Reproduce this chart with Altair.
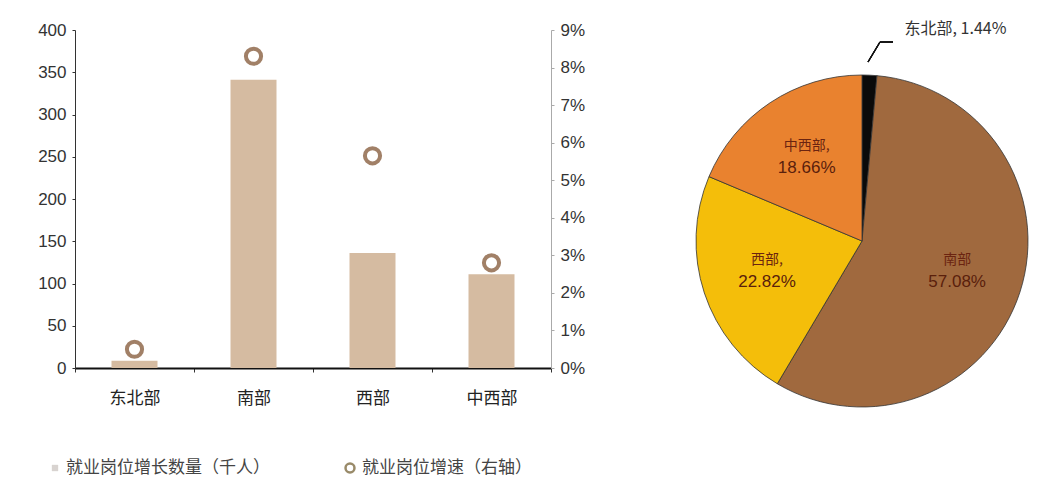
import altair as alt
import pandas as pd

# ---- data ----
regions = ["东北部", "南部", "西部", "中西部"]
job_growth = [8.6, 341, 136, 111]            # 千人
growth_rate = [0.005, 0.083, 0.0565, 0.028]  # 右轴
pie_share = [1.44, 57.08, 22.82, 18.66]      # %
pie_colors = ["#0a0a0a", "#A0693E", "#F4BE0A", "#E9822F"]
pie_names_in = ["", "南部", "西部,", "中西部,"]
bar_label = "就业岗位增长数量（千人）"
pt_label = "就业岗位增速（右轴）"

df = pd.DataFrame({
    "region": regions,
    "growth": job_growth,
    "rate": growth_rate,
    "share": pie_share,
    "idx": list(range(len(regions))),
    "name_in": pie_names_in,
})
df["pct_in"] = ["" if r == "东北部" else f"{s:.2f}%" for r, s in zip(regions, pie_share)]
df["out_label"] = [f"{r}, {s:.2f}%" if r == "东北部" else "" for r, s in zip(regions, pie_share)]

W, H = 476, 338
PL, PT = 75, 30
CX, CY = 787, 211
R = 166

base = alt.Chart(df)

xenc = alt.X("region:N", sort=regions, title=None,
             scale=alt.Scale(paddingInner=0, paddingOuter=0),
             axis=alt.Axis(labelAngle=0, labelFont="Noto Sans CJK SC", labelFontSize=17,
                           labelColor="#222", labelPadding=18, domainColor="#111",
                           domainWidth=2, tickBand="extent", tickColor="#333",
                           tickSize=4))

bars = base.mark_bar(size=46, color="#D5BBA1").encode(
    x=xenc,
    y=alt.Y("growth:Q", title=None,
            scale=alt.Scale(domain=[0, 400]),
            axis=alt.Axis(values=list(range(0, 401, 50)), grid=False,
                          labelFont="Liberation Sans", labelFontSize=17,
                          labelColor="#333", domainColor="#333", tickColor="#333",
                          tickSize=3, labelPadding=6)),
)

points = base.mark_point(shape="circle", filled=False, size=230,
                         strokeWidth=4, color="#7A4B28").encode(
    x=alt.X("region:N", sort=regions),
    y=alt.Y("rate:Q", title=None,
            scale=alt.Scale(domain=[0, 0.09]),
            axis=alt.Axis(orient="right", format=".0%",
                          values=[i / 100 for i in range(10)], grid=False,
                          labelFont="Liberation Sans", labelFontSize=17,
                          labelColor="#333", domainColor="#aaa", tickColor="#aaa",
                          tickSize=3, labelPadding=6)),
)

left = alt.layer(bars, points).resolve_scale(y="independent")

theta = alt.Theta("share:Q", stack=True)
order = alt.Order("idx:Q")

pie = base.mark_arc(radius=R, stroke="#333", strokeWidth=0.8).encode(
    theta=theta,
    order=order,
    color=alt.Color("region:N", scale=alt.Scale(domain=regions, range=pie_colors),
                    legend=None),
    x=alt.value(CX), y=alt.value(CY),
)

pie_names = base.mark_text(radius=100, dy=-12, font="Noto Sans CJK SC",
                           fontSize=14, color="#6B2410").encode(
    theta=theta, order=order, text="name_in:N",
    x=alt.value(CX), y=alt.value(CY),
)
pie_pcts = base.mark_text(radius=100, dy=10, font="Liberation Sans",
                          fontSize=17, color="#5A200C").encode(
    theta=theta, order=order, text="pct_in:N",
    x=alt.value(CX), y=alt.value(CY),
)
pie_out = base.mark_text(radius=212, dx=33, align="left", font="Noto Sans CJK SC",
                         fontSize=16, color="#333").encode(
    theta=theta, order=order, text="out_label:N",
    x=alt.value(CX), y=alt.value(CY),
)

lead1 = base.mark_rule(color="#111", strokeWidth=1.2).encode(
    x=alt.value(793), y=alt.value(32), x2=alt.value(805), y2=alt.value(12))
lead2 = base.mark_rule(color="#111", strokeWidth=1.2).encode(
    x=alt.value(805), y=alt.value(12), x2=alt.value(818), y2=alt.value(12))

leg_df = pd.DataFrame({"lab": [bar_label, pt_label]})
leg_sq = alt.Chart(leg_df).transform_filter(alt.datum.lab == bar_label).mark_square(
    size=40, color="#C8C0BC", filled=True).encode(x=alt.value(-20), y=alt.value(438))
leg_ci = alt.Chart(leg_df).transform_filter(alt.datum.lab == pt_label).mark_point(
    shape="circle", size=80, filled=False, strokeWidth=2.5, color="#6E5A2A").encode(
    x=alt.value(275), y=alt.value(438))
leg_t1 = alt.Chart(leg_df).transform_filter(alt.datum.lab == bar_label).mark_text(
    align="left", font="Noto Sans CJK SC", fontSize=17,
    color="#444").encode(x=alt.value(-9), y=alt.value(438), text="lab:N")
leg_t2 = alt.Chart(leg_df).transform_filter(alt.datum.lab == pt_label).mark_text(
    align="left", font="Noto Sans CJK SC", fontSize=17,
    color="#444").encode(x=alt.value(287), y=alt.value(438), text="lab:N")

chart = alt.layer(
    left, pie, pie_names, pie_pcts, pie_out, lead1, lead2,
    leg_sq, leg_ci, leg_t1, leg_t2
).resolve_scale(y="independent", theta="independent").properties(
    width=W, height=H,
    autosize=alt.AutoSizeParams(type="none"),
    padding={"left": PL, "top": PT, "right": 1048 - PL - W, "bottom": 483 - PT - H},
    background="white",
).configure_view(stroke=None)

chart.save("out.html", embed_options={"renderer": "svg", "actions": False})
